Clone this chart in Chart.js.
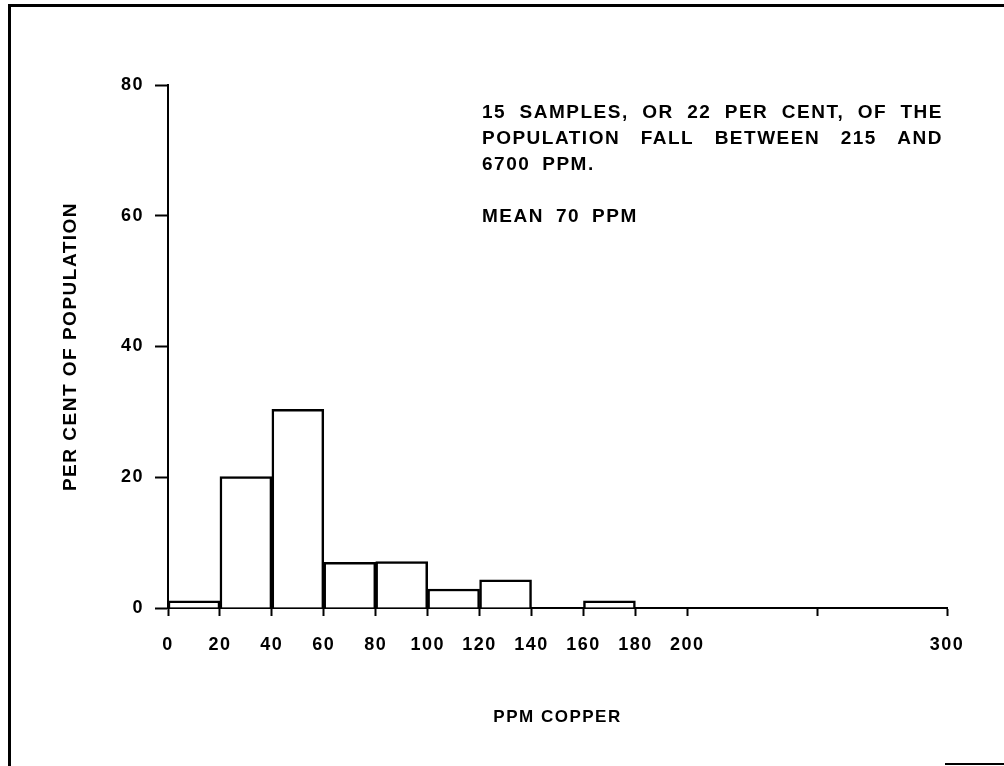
<!DOCTYPE html>
<html>
<head>
<meta charset="utf-8">
<script src="https://cdn.jsdelivr.net/npm/chart.js@4"></script>
<style>
  body { margin: 0; background: #fff; }
  canvas { display: block; }
</style>
</head>
<body>
<canvas id="copperChart" width="1004" height="766"></canvas>
<script>
// histogram bins (centre of each 20 ppm class) and per cent of population
const binCenters = [10, 30, 50, 70, 90, 110, 130, 150, 170];
const percents = [1.1, 20.1, 30.4, 7.0, 7.1, 2.9, 4.3, 0, 1.1];

const xTickValues = [0, 20, 40, 60, 80, 100, 120, 140, 160, 180, 200, 250, 300];
const xTickLabels = ['0', '20', '40', '60', '80', '100', '120', '140', '160', '180', '200', '', '300'];
const yTickValues = [0, 20, 40, 60, 80];

const noteLines = [
    '15 SAMPLES, OR 22 PER CENT, OF THE',
    'POPULATION FALL BETWEEN 215 AND',
    '6700 PPM.',
    '',
    'MEAN 70 PPM'
];

Chart.defaults.font.family = '"Liberation Sans", Arial, sans-serif';
Chart.defaults.font.weight = 'bold';
Chart.defaults.color = '#000';

// note block + scanned page frame
const notePlugin = {
    id: 'note',
    beforeDraw(chart) {
        chart.ctx.letterSpacing = '1.5px';
    },
    afterDraw(chart) {
        const ctx = chart.ctx;
        ctx.save();
        ctx.font = 'bold 19px "Liberation Sans", Arial, sans-serif';
        ctx.letterSpacing = '1.5px';
        ctx.fillStyle = '#000';
        ctx.textBaseline = 'alphabetic';
        const left = 482, right = 943;
        noteLines.forEach((line, i) => {
            if (!line) return;
            const words = line.split(' ');
            const widths = words.map(w => ctx.measureText(w).width);
            const total = widths.reduce((a, b) => a + b, 0);
            let gap = 12;
            if (i < 2) gap = (right - left - total) / (words.length - 1);
            let x = left;
            const y = 118 + i * 26;
            words.forEach((w, j) => {
                ctx.fillText(w, x, y);
                x += widths[j] + gap;
            });
        });

        // frame lines from the scanned page
        ctx.fillStyle = '#000';
        ctx.fillRect(8, 4, 3, 762);
        ctx.fillRect(8, 4, 996, 3);
        ctx.fillRect(945, 763, 59, 2);
        ctx.restore();
    }
};

const ctx = document.getElementById('copperChart').getContext('2d');
const chart = new Chart(ctx, {
    type: 'bar',
    data: {
        datasets: [{
            data: binCenters.map((c, i) => ({ x: c, y: percents[i] })),
            backgroundColor: '#fff',
            borderColor: '#000',
            borderWidth: 2.5,
            barPercentage: 1,
            categoryPercentage: 1
        }]
    },
    options: {
        responsive: false,
        devicePixelRatio: 1,
        animation: false,
        layout: { padding: { left: 0, top: 85, right: 57, bottom: 0 } },
        plugins: {
            legend: { display: false },
            tooltip: { enabled: false }
        },
        scales: {
            x: {
                type: 'linear',
                min: 0,
                max: 300,
                offset: false,
                afterBuildTicks: (scale) => {
                    scale.ticks = xTickValues.map(v => ({ value: v }));
                },
                afterFit: (scale) => { scale.height = 158; },
                ticks: {
                    autoSkip: false,
                    maxRotation: 0,
                    padding: 18,
                    font: { size: 18, weight: 'bold' },
                    callback: (value) => xTickLabels[xTickValues.indexOf(value)]
                },
                grid: {
                    drawOnChartArea: false,
                    drawTicks: true,
                    tickLength: 8,
                    tickColor: '#000',
                    tickWidth: 2,
                    offset: false
                },
                border: { display: true, color: '#000', width: 2 },
                title: {
                    display: true,
                    text: 'PPM COPPER',
                    font: { size: 17, weight: 'bold' },
                    padding: { top: 0, bottom: 38 }
                }
            },
            y: {
                min: 0,
                max: 80,
                afterBuildTicks: (scale) => {
                    scale.ticks = yTickValues.map(v => ({ value: v }));
                },
                afterFit: (scale) => { scale.width = 168; },
                ticks: {
                    padding: 11,
                    font: { size: 18, weight: 'bold' }
                },
                grid: {
                    drawOnChartArea: false,
                    drawTicks: true,
                    tickLength: 13,
                    tickColor: '#000',
                    tickWidth: 2
                },
                border: { display: true, color: '#000', width: 2 },
                title: {
                    display: true,
                    text: 'PER CENT OF POPULATION',
                    font: { size: 19, weight: 'bold' },
                    padding: { top: 59, bottom: 0 }
                }
            }
        }
    },
    plugins: [notePlugin]
});
</script>
</body>
</html>
